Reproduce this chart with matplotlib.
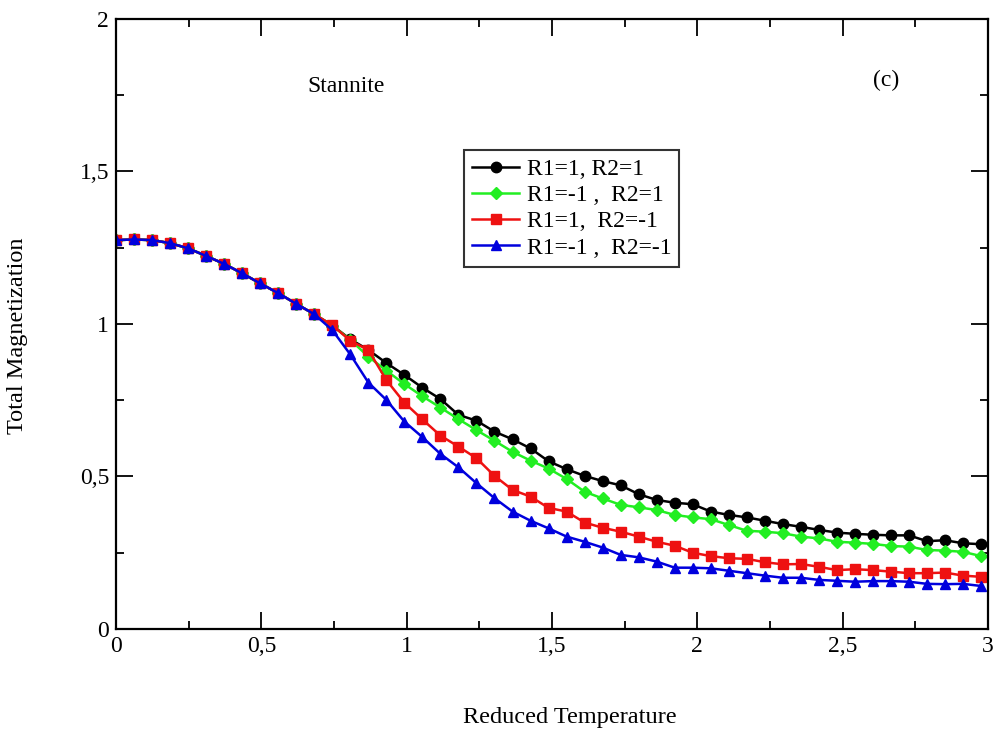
import matplotlib as mpl
mpl.use('Agg')
import matplotlib.pyplot as plt
from matplotlib.ticker import MultipleLocator, FuncFormatter
import numpy as np

plt.rcParams['font.family'] = ['Liberation Serif', 'DejaVu Serif']

# reduced temperature grid (49 samples)
temperature = np.linspace(0, 2.976, 49)

# shared low-temperature part of all four curves
common = [1.275, 1.277, 1.275, 1.265, 1.248, 1.223, 1.197, 1.166, 1.133, 1.101,
          1.066, 1.032]

m_r1p_r2p = common + [0.995, 0.950, 0.915, 0.872, 0.833, 0.791, 0.754, 0.702, 0.683,
                      0.647, 0.622, 0.592, 0.550, 0.524, 0.502, 0.485, 0.471, 0.442,
                      0.423, 0.414, 0.409, 0.385, 0.374, 0.366, 0.355, 0.344, 0.335,
                      0.325, 0.316, 0.312, 0.309, 0.307, 0.307, 0.288, 0.291, 0.281,
                      0.278]
m_r1m_r2p = common + [0.995, 0.948, 0.893, 0.847, 0.803, 0.763, 0.726, 0.688, 0.652,
                      0.617, 0.581, 0.552, 0.526, 0.492, 0.450, 0.428, 0.407, 0.399,
                      0.390, 0.374, 0.366, 0.360, 0.341, 0.322, 0.319, 0.314, 0.303,
                      0.297, 0.286, 0.283, 0.279, 0.272, 0.270, 0.259, 0.257, 0.253,
                      0.239]
m_r1p_r2m = common + [0.996, 0.945, 0.915, 0.816, 0.742, 0.687, 0.634, 0.598, 0.560,
                      0.502, 0.456, 0.434, 0.397, 0.385, 0.349, 0.332, 0.319, 0.303,
                      0.286, 0.273, 0.250, 0.239, 0.232, 0.230, 0.219, 0.212, 0.213,
                      0.204, 0.193, 0.196, 0.193, 0.188, 0.183, 0.183, 0.185, 0.175,
                      0.171]
m_r1m_r2m = common + [0.980, 0.900, 0.808, 0.751, 0.680, 0.629, 0.574, 0.530, 0.478,
                      0.429, 0.385, 0.355, 0.330, 0.303, 0.286, 0.267, 0.243, 0.235,
                      0.221, 0.201, 0.201, 0.199, 0.191, 0.183, 0.175, 0.168, 0.168,
                      0.161, 0.158, 0.155, 0.157, 0.157, 0.155, 0.148, 0.147, 0.148,
                      0.141]

series = [
    (m_r1p_r2p, 'R1=1, R2=1', 'black', 'o'),
    (m_r1m_r2p, 'R1=-1 ,  R2=1', '#22ee22', 'D'),
    (m_r1p_r2m, 'R1=1,  R2=-1', '#ee1111', 's'),
    (m_r1m_r2m, 'R1=-1 ,  R2=-1', '#0000dd', '^'),
]

fig = plt.figure(figsize=(9.97, 7.38), dpi=100)
ax = fig.add_axes([0.1164, 0.1477, 0.8746, 0.8266])

for vals, lab, col, mk in series:
    ms = 7.5 if mk != 'D' else 6
    ax.plot(temperature, vals, color=col, marker=mk, markersize=ms, linewidth=1.8,
            label=lab)

ax.set_xlim(0, 3)
ax.set_ylim(0, 2)
ax.xaxis.set_major_locator(MultipleLocator(0.5))
ax.xaxis.set_minor_locator(MultipleLocator(0.25))
ax.yaxis.set_major_locator(MultipleLocator(0.5))
ax.yaxis.set_minor_locator(MultipleLocator(0.25))

comma = FuncFormatter(lambda v, p: ('%g' % v).replace('.', ','))
ax.xaxis.set_major_formatter(comma)
ax.yaxis.set_major_formatter(comma)

ax.tick_params(which='both', direction='in', top=True, right=True, labelsize=17,
               width=1.3)
ax.tick_params(which='major', length=12, pad=5)
ax.tick_params(which='minor', length=6)
for sp in ax.spines.values():
    sp.set_linewidth(1.6)

ax.set_xlabel('Reduced Temperature', fontsize=17.5)
ax.set_ylabel('Total Magnetization', fontsize=17.5)
ax.xaxis.set_label_coords(0.52, -0.128)
ax.yaxis.set_label_coords(-0.101, 0.48)

ax.text(0.79, 1.78, 'Stannite', fontsize=17, ha='center', va='center')
ax.text(2.65, 1.80, '(c)', fontsize=17, ha='center', va='center')

leg = ax.legend(loc='upper left', bbox_to_anchor=(0.399, 0.785), fontsize=17,
                frameon=True, fancybox=False, handlelength=2.0, handletextpad=0.3,
                borderpad=0.35, labelspacing=0.2, borderaxespad=0)
leg.get_frame().set_edgecolor('black')
leg.get_frame().set_linewidth(1.5)

plt.savefig('out.png', dpi=100)
